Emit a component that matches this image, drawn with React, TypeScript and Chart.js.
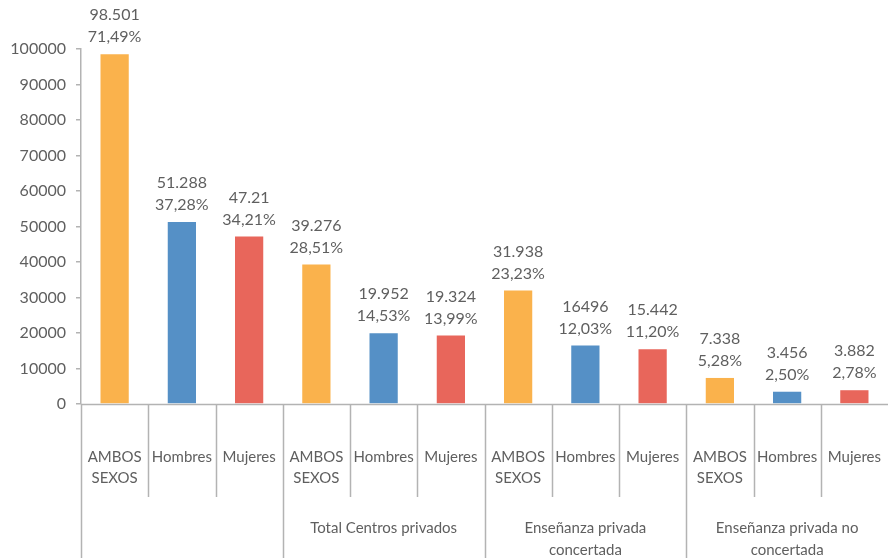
import React, { useEffect, useRef } from "react";
import { Chart, registerables } from "chart.js";

Chart.register(...registerables);

const subLabels: string[][] = [["AMBOS", "SEXOS"], ["Hombres"], ["Mujeres"]];
const groupLabels: string[][] = [
  [],
  ["Total Centros privados"],
  ["Enseñanza privada", "concertada"],
  ["Enseñanza privada no", "concertada"],
];
const categories: string[] = [
  "AMBOS SEXOS", "Hombres", "Mujeres",
  "AMBOS SEXOS", "Hombres", "Mujeres",
  "AMBOS SEXOS", "Hombres", "Mujeres",
  "AMBOS SEXOS", "Hombres", "Mujeres",
];
const values: number[] = [98501, 51288, 47210, 39276, 19952, 19324, 31938, 16496, 15442, 7338, 3456, 3882];
const valueLabels: string[] = ["98.501", "51.288", "47.21", "39.276", "19.952", "19.324", "31.938", "16496", "15.442", "7.338", "3.456", "3.882"];
const pctLabels: string[] = ["71,49%", "37,28%", "34,21%", "28,51%", "14,53%", "13,99%", "23,23%", "12,03%", "11,20%", "5,28%", "2,50%", "2,78%"];
const sexColors: string[] = ["#FAB24C", "#5590C6", "#E8665B"];

const FONT = "Lato, 'Open Sans', sans-serif";
const TEXT = "#5f5f5f";
const LINE = "#b3b3b3";

const overlay = {
  id: "overlay",
  afterDatasetsDraw(chart: any) {
    const ctx = chart.ctx;
    const meta = chart.getDatasetMeta(0);
    ctx.save();
    ctx.fillStyle = TEXT;
    ctx.font = `16px ${FONT}`;
    ctx.textAlign = "center";
    ctx.textBaseline = "middle";
    meta.data.forEach((bar: any, i: number) => {
      ctx.fillText(valueLabels[i], bar.x, bar.y - 39);
      ctx.fillText(pctLabels[i], bar.x, bar.y - 17);
    });
    ctx.restore();
  },
  afterDraw(chart: any) {
    const ctx = chart.ctx;
    const xs = chart.scales.x;
    const area = chart.chartArea;
    const bottom = area.bottom;
    const H = chart.height;
    ctx.save();
    ctx.strokeStyle = LINE;
    ctx.lineWidth = 1.5;
    ctx.beginPath();
    ctx.moveTo(area.left, bottom + 0.5);
    ctx.lineTo(area.right, bottom + 0.5);
    ctx.stroke();
    const n = categories.length;
    const half = (xs.getPixelForValue(1) - xs.getPixelForValue(0)) / 2;
    for (let i = 0; i <= n - 1; i++) {
      const bx = xs.getPixelForValue(i) - half;
      const isGroup = i % 3 === 0;
      ctx.beginPath();
      ctx.moveTo(Math.round(bx) + 0.5, bottom);
      ctx.lineTo(Math.round(bx) + 0.5, isGroup ? H : bottom + 93);
      ctx.stroke();
    }
    ctx.fillStyle = TEXT;
    ctx.font = `15px ${FONT}`;
    ctx.textAlign = "center";
    ctx.textBaseline = "middle";
    for (let i = 0; i < n; i++) {
      const cx = xs.getPixelForValue(i);
      const lines = subLabels[i % 3];
      lines.forEach((l, k) => ctx.fillText(l, cx, bottom + 53 + k * 21));
    }
    for (let g = 0; g < groupLabels.length; g++) {
      const cx = xs.getPixelForValue(g * 3 + 1);
      groupLabels[g].forEach((l, k) => ctx.fillText(l, cx, bottom + 124 + k * 22));
    }
    ctx.restore();
  },
};

export default function App() {
  const ref = useRef<HTMLCanvasElement>(null);
  useEffect(() => {
    if (!ref.current) return;
    const chart = new Chart(ref.current, {
      type: "bar",
      data: {
        labels: categories,
        datasets: [
          {
            data: values,
            backgroundColor: values.map((_, i) => sexColors[i % 3]),
            categoryPercentage: 1,
            barPercentage: 0.42,
          },
        ],
      },
      options: {
        animation: false,
        responsive: true,
        maintainAspectRatio: false,
        layout: { padding: { left: 0, top: 49, right: 2, bottom: 154 } },
        plugins: { legend: { display: false }, tooltip: { enabled: false } },
        scales: {
          x: { display: false },
          y: {
            min: 0,
            max: 100000,
            afterFit: (s: any) => { s.width = 81; },
            ticks: {
              stepSize: 10000,
              color: TEXT,
              padding: 10,
              font: { family: FONT, size: 16 },
              callback: (v: any) => String(v),
            },
            grid: { drawOnChartArea: false, drawTicks: true, tickLength: 5, color: LINE, lineWidth: 1.5 },
            border: { display: true, color: LINE, width: 1.5 },
          },
        },
      },
      plugins: [overlay],
    });
    return () => chart.destroy();
  }, []);
  return (
    <div style={{ position: "fixed", left: 0, top: 0, width: 890, height: 558, background: "#fff" }}>
      <canvas ref={ref} />
    </div>
  );
}
